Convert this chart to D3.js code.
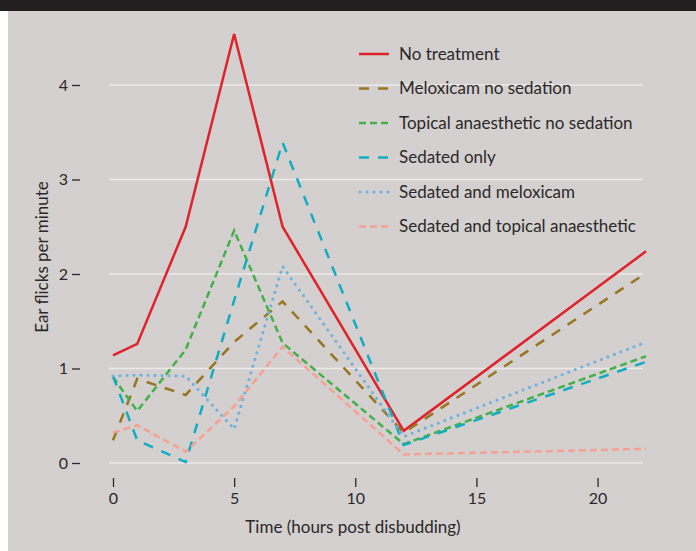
<!DOCTYPE html>
<html>
<head>
<meta charset="utf-8">
<script src="https://cdn.jsdelivr.net/npm/d3@7"></script>
<style>
  html, body { margin: 0; padding: 0; background: #fff; }
  svg { display: block; }
  text { font-family: Lato, "Noto Sans", sans-serif; fill: #2b2829; }
</style>
</head>
<body>
<svg id="chart" width="696" height="551"></svg>
<script>
// hours post disbudding
const times = [0, 1, 3, 5, 7, 12, 22];

const seriesNames = [
    "No treatment",
    "Meloxicam no sedation",
    "Topical anaesthetic no sedation",
    "Sedated only",
    "Sedated and meloxicam",
    "Sedated and topical anaesthetic"
];

// ear flicks per minute, one array per treatment
const noTreatment      = [1.14, 1.26, 2.50, 4.54, 2.50, 0.34, 2.24];
const meloxicamNoSed   = [0.24, 0.89, 0.72, 1.28, 1.71, 0.32, 2.01];
const topicalNoSed     = [0.91, 0.55, 1.20, 2.46, 1.27, 0.20, 1.13];
const sedatedOnly      = [0.92, 0.24, 0.01, 1.72, 3.39, 0.19, 1.07];
const sedatedMeloxicam = [0.92, 0.93, 0.92, 0.36, 2.08, 0.28, 1.28];
const sedatedTopical   = [0.32, 0.40, 0.12, 0.60, 1.23, 0.09, 0.15];

const xTicks = [0, 5, 10, 15, 20];
const yTicks = [0, 1, 2, 3, 4];

const seriesValues = [noTreatment, meloxicamNoSed, topicalNoSed, sedatedOnly, sedatedMeloxicam, sedatedTopical];

// line styles per series
const styles = [
    { color: "#e0222a", dash: null,   width: 2.5, cap: "butt" },
    { color: "#967620", dash: "10,9", width: 2.5, cap: "butt" },
    { color: "#45b04a", dash: "7,4",  width: 2.5, cap: "butt" },
    { color: "#12adc0", dash: "10,9", width: 2.5, cap: "butt" },
    { color: "#6eb2dd", dash: "0,7",  width: 3.2, cap: "round" },
    { color: "#f5a193", dash: "7,4",  width: 2.5, cap: "butt" }
];

const svg = d3.select("#chart");

// background panels
svg.append("rect").attr("x", 8).attr("y", 0).attr("width", 688).attr("height", 551).attr("fill", "#d4d0cf");
svg.append("rect").attr("x", 0).attr("y", 0).attr("width", 696).attr("height", 11).attr("fill", "#231f20");

const x = d3.scaleLinear().domain([0, 22]).range([113, 646]);
const y = d3.scaleLinear().domain([0, 4]).range([463, 85]);

// horizontal grid
svg.append("g").selectAll("line")
    .data(yTicks)
    .join("line")
    .attr("x1", x(0) - 4)
    .attr("x2", x(22) - 3)
    .attr("y1", d => y(d))
    .attr("y2", d => y(d))
    .attr("stroke", "#eceae9")
    .attr("stroke-width", 1.5);

// y axis: label followed by a short dash
const yAxis = svg.append("g").attr("transform", "translate(80,0)")
    .call(d3.axisLeft(y).tickValues(yTicks).tickFormat(d3.format("d")).tickSize(8).tickPadding(4));
yAxis.select(".domain").remove();
yAxis.selectAll(".tick line").attr("stroke", "#2b2829").attr("stroke-width", 1.3);
yAxis.selectAll(".tick text").attr("font-size", 16).style("font-family", "Lato, sans-serif").attr("fill", "#2b2829");

// x axis: short vertical ticks under the plot
const xAxis = svg.append("g").attr("transform", "translate(0,478)")
    .call(d3.axisBottom(x).tickValues(xTicks).tickSize(9).tickPadding(6));
xAxis.select(".domain").remove();
xAxis.selectAll(".tick line").attr("stroke", "#2b2829").attr("stroke-width", 1.3);
xAxis.selectAll(".tick text").attr("font-size", 16).style("font-family", "Lato, sans-serif").attr("fill", "#2b2829");

svg.append("text")
    .attr("x", 353)
    .attr("y", 533)
    .attr("text-anchor", "middle")
    .attr("font-size", 17)
    .text("Time (hours post disbudding)");

svg.append("text")
    .attr("transform", "translate(48,257) rotate(-90)")
    .attr("text-anchor", "middle")
    .attr("font-size", 17)
    .text("Ear flicks per minute");

// series lines
const line = d3.line()
    .x((d, i) => x(times[i]))
    .y(d => y(d));

svg.append("g").selectAll("path")
    .data(seriesValues)
    .join("path")
    .attr("d", d => line(d))
    .attr("fill", "none")
    .attr("stroke", (d, i) => styles[i].color)
    .attr("stroke-width", (d, i) => styles[i].width)
    .attr("stroke-dasharray", (d, i) => styles[i].dash)
    .attr("stroke-linecap", (d, i) => styles[i].cap)
    .attr("stroke-linejoin", "miter");

// legend
const legend = svg.append("g").attr("transform", "translate(359,54)");
const rows = legend.selectAll("g")
    .data(seriesNames)
    .join("g")
    .attr("transform", (d, i) => `translate(0,${i * 34.5})`);

rows.append("line")
    .attr("x1", (d, i) => styles[i].cap === "round" ? 1 : 0)
    .attr("x2", 30)
    .attr("stroke", (d, i) => styles[i].color)
    .attr("stroke-width", (d, i) => styles[i].width)
    .attr("stroke-dasharray", (d, i) => styles[i].dash)
    .attr("stroke-linecap", (d, i) => styles[i].cap);

rows.append("text")
    .attr("x", 40)
    .attr("dy", "0.35em")
    .attr("font-size", 17)
    .text(d => d);
</script>
</body>
</html>
